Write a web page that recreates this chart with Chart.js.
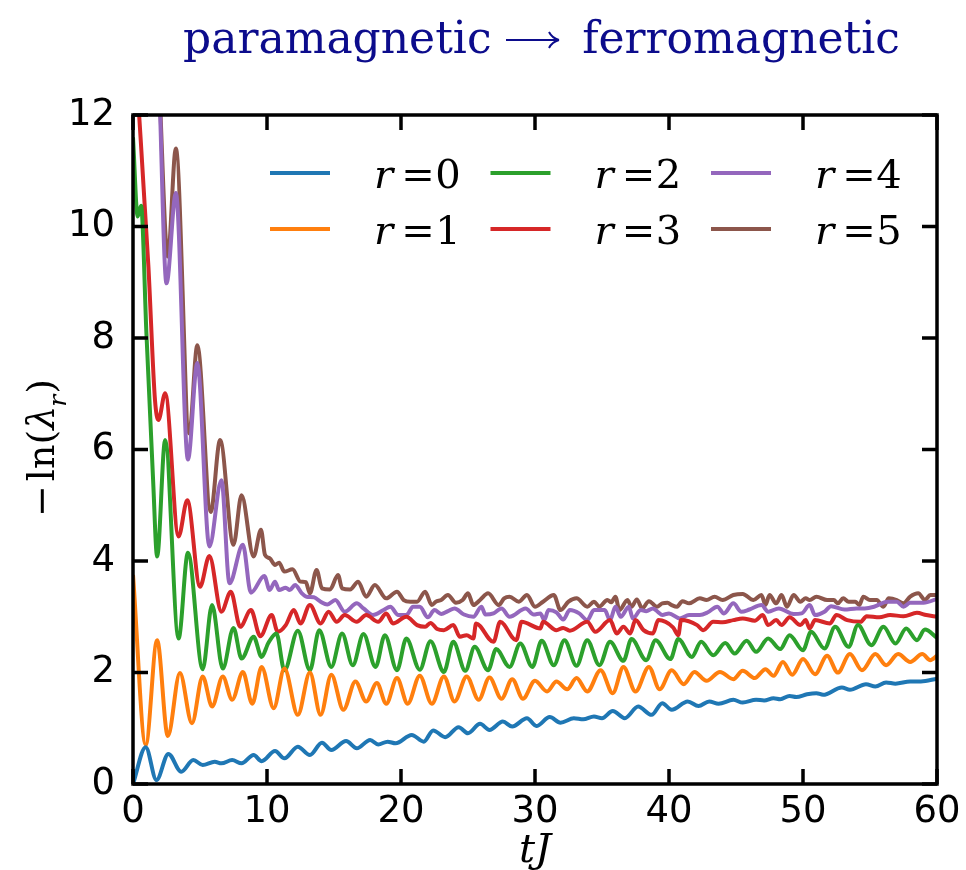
<!DOCTYPE html>
<html lang="en">
<head>
<meta charset="UTF-8">
<title>paramagnetic → ferromagnetic</title>
<script src="https://cdn.jsdelivr.net/npm/chart.js"></script>
<style>
  html, body { margin: 0; padding: 0; background: #fff; }
  #wrap { width: 966px; height: 870px; }
</style>
</head>
<body>
<div id="wrap"><canvas id="grafica" width="966" height="870"></canvas></div>
<script>
// [tJ, -ln(lambda_r)] (peaks and troughs)
const r0 = [[0,0],[0.95,0.66],[1.75,0.07],[2.64,0.54],[3.6,0.22],[4.5,0.43],[5.2,0.34],[6.1,0.40],[6.6,0.37],[7.4,0.43],[8.1,0.37],[9.0,0.52],[9.6,0.41],[10.6,0.59],[11.3,0.46],[12.3,0.67],[13.2,0.52],[14.1,0.74],[14.8,0.61],[15.9,0.77],[16.7,0.64],[17.7,0.79],[18.3,0.71],[19.0,0.76],[19.6,0.73],[20.8,0.88],[21.7,0.76],[22.4,0.96],[23.3,0.84],[24.3,1.02],[25.0,0.91],[25.9,1.08],[26.6,0.97],[27.6,1.12],[28.3,1.03],[29.4,1.18],[30.1,1.04],[31.1,1.20],[31.9,1.10],[32.9,1.18],[33.6,1.16],[34.4,1.21],[35.0,1.18],[35.8,1.31],[36.7,1.18],[37.7,1.39],[38.7,1.24],[39.5,1.45],[40.2,1.33],[41.4,1.48],[42.2,1.40],[43.0,1.48],[43.7,1.44],[44.8,1.51],[45.5,1.46],[46.5,1.51],[47.1,1.50],[47.8,1.54],[48.3,1.52],[49.0,1.58],[49.5,1.56],[50.3,1.61],[51.0,1.63],[51.5,1.60],[52.9,1.73],[53.5,1.69],[54.7,1.79],[55.4,1.75],[56.2,1.82],[56.9,1.80],[58.0,1.84],[58.8,1.84],[60,1.89]];
const r1 = [[0,3.75],[0.95,0.70],[1.8,2.58],[2.6,0.86],[3.5,1.99],[4.4,1.09],[5.2,1.93],[5.9,1.39],[6.7,1.93],[7.4,1.51],[8.2,2.01],[8.9,1.44],[9.6,2.10],[10.5,1.36],[11.3,2.07],[12.3,1.24],[13.2,2.00],[14.0,1.24],[14.8,1.96],[15.7,1.33],[16.6,1.84],[17.4,1.48],[18.2,1.81],[18.9,1.44],[19.7,1.90],[20.5,1.44],[21.4,1.94],[22.3,1.44],[23.2,1.93],[24.0,1.48],[24.9,1.93],[25.8,1.51],[26.6,1.91],[27.5,1.53],[28.3,1.88],[29.1,1.53],[30.0,1.85],[30.9,1.66],[31.6,1.84],[32.4,1.70],[33.1,1.90],[33.9,1.66],[34.9,2.04],[35.8,1.63],[36.6,2.10],[37.5,1.66],[38.5,2.10],[39.3,1.70],[40.2,2.04],[41.1,1.79],[41.9,2.01],[42.8,1.85],[43.8,2.01],[44.8,1.88],[45.5,2.03],[46.4,1.90],[47.2,2.06],[47.8,1.94],[48.5,2.19],[49.2,1.96],[50.0,2.24],[50.9,1.97],[51.8,2.30],[52.6,2.00],[53.5,2.33],[54.4,2.04],[55.4,2.33],[56.2,2.13],[57.1,2.33],[58.0,2.19],[58.9,2.33],[59.5,2.22],[60,2.30]];
const r2 = [[0,11.6],[0.35,10.18],[0.6,10.37],[1.0,8.09],[1.5,5.45],[1.8,4.08],[2.4,6.17],[3.4,2.61],[4.1,4.15],[5.2,2.06],[5.9,3.21],[6.7,2.07],[7.5,2.80],[8.1,2.25],[9.0,2.64],[9.6,2.28],[10.1,2.53],[10.7,2.70],[11.3,2.04],[12.3,2.75],[13.2,2.04],[13.9,2.76],[14.8,2.10],[15.6,2.70],[16.4,2.13],[17.2,2.69],[18.1,2.10],[18.8,2.67],[19.7,2.04],[20.4,2.61],[21.4,2.05],[22.2,2.56],[23.2,2.01],[23.9,2.55],[24.8,2.03],[25.5,2.46],[26.5,2.04],[27.1,2.42],[28.1,2.10],[28.9,2.52],[29.8,2.10],[30.5,2.57],[31.4,2.13],[32.2,2.58],[33.1,2.12],[33.9,2.58],[34.8,2.13],[35.6,2.55],[36.6,2.21],[37.2,2.60],[38.3,2.22],[39.0,2.58],[40.1,2.24],[40.7,2.60],[41.7,2.28],[42.4,2.55],[43.3,2.31],[44.2,2.53],[44.9,2.34],[45.8,2.57],[46.5,2.37],[47.4,2.61],[48.3,2.42],[49.0,2.67],[50.0,2.40],[50.6,2.73],[51.6,2.43],[52.4,2.82],[53.4,2.46],[54.1,2.85],[55.1,2.49],[56.0,2.82],[56.9,2.52],[57.7,2.79],[58.5,2.58],[59.1,2.77],[60,2.62]];
const r3 = [[0.3,12.6],[1.15,9.28],[1.64,6.89],[1.9,6.53],[2.4,7.01],[3.4,4.44],[4.05,5.09],[5.0,3.54],[5.7,4.09],[6.6,3.09],[7.3,3.45],[8.0,2.82],[8.8,3.12],[9.5,2.65],[10.35,3.03],[10.8,2.73],[11.4,2.85],[12.0,3.12],[12.5,2.88],[13.2,3.21],[14.0,2.88],[14.6,3.09],[15.2,2.91],[15.8,3.03],[16.7,2.91],[17.4,3.03],[18.3,2.91],[18.9,3.06],[19.4,2.88],[20.4,3.00],[21.2,2.85],[21.8,2.82],[22.2,2.89],[22.7,2.78],[23.2,2.76],[23.9,2.85],[24.4,2.64],[24.9,2.67],[25.4,2.61],[25.6,2.88],[26.9,2.55],[27.4,2.91],[28.6,2.58],[29.0,2.91],[30.4,2.79],[30.6,2.91],[31.6,2.76],[32.1,2.80],[32.6,2.75],[33.9,2.91],[34.5,2.73],[35.6,2.94],[36.1,2.70],[36.6,2.82],[37.1,2.70],[37.5,2.94],[38.1,2.76],[38.8,2.70],[39.2,2.94],[40.3,2.81],[40.7,2.67],[40.9,2.94],[42.1,2.85],[42.55,2.76],[43.3,2.91],[44.0,2.90],[44.8,2.94],[45.5,2.97],[46.4,2.93],[47.0,3.03],[47.4,2.85],[48.0,2.94],[48.4,2.85],[49.0,2.99],[49.8,2.85],[50.2,2.94],[50.5,2.79],[50.9,2.94],[52.0,2.88],[52.5,3.03],[53.3,2.94],[54.3,2.91],[54.75,3.01],[55.7,2.99],[56.5,3.03],[57.5,3.01],[58.5,3.07],[59.2,3.03],[60,3.00]];
const r4 = [[1.95,12.6],[2.5,8.98],[3.2,10.6],[4.1,5.82],[4.8,7.55],[5.7,4.26],[6.6,5.45],[7.2,3.60],[8.2,4.29],[8.8,3.43],[9.8,3.73],[10.2,3.48],[10.6,3.63],[10.9,3.48],[11.4,3.52],[11.7,3.48],[12.1,3.57],[12.6,3.42],[12.95,3.36],[13.5,3.35],[14.0,3.27],[14.5,3.22],[15.1,3.30],[15.8,3.09],[16.7,3.24],[17.2,3.15],[17.9,3.03],[18.7,3.12],[19.2,3.18],[19.8,3.03],[20.4,3.03],[20.9,3.18],[21.4,3.18],[22.0,2.99],[22.5,3.12],[23.0,3.05],[23.5,3.10],[24.0,3.15],[24.7,3.04],[25.4,3.00],[26.0,3.18],[26.3,3.04],[26.9,3.06],[27.5,3.15],[28.1,3.00],[29.3,3.15],[29.9,3.04],[30.4,3.06],[30.7,2.94],[31.0,3.12],[31.6,3.08],[32.1,2.95],[32.6,3.12],[33.3,3.06],[33.9,2.94],[34.4,3.12],[35.2,3.12],[35.6,2.94],[36.0,3.18],[36.4,3.00],[37.0,3.18],[37.3,2.97],[37.9,3.12],[38.3,3.10],[38.8,3.15],[39.2,3.08],[39.5,3.03],[40.0,3.06],[40.8,2.97],[41.5,3.03],[42.3,3.03],[42.9,3.08],[43.6,3.18],[44.1,3.06],[44.8,3.24],[45.4,3.09],[46.0,3.13],[46.9,3.21],[47.4,3.09],[48.2,3.15],[49.3,3.05],[49.9,3.06],[50.5,3.21],[50.9,3.03],[51.6,3.09],[52.1,3.19],[53.1,3.13],[54.0,3.15],[54.6,3.15],[55.3,3.18],[56.3,3.27],[57.0,3.27],[57.5,3.18],[58.0,3.25],[59.0,3.25],[60,3.32]];
const r5 = [[1.95,12.6],[2.6,9.46],[3.2,11.40],[4.2,6.29],[4.8,7.87],[5.8,4.88],[6.5,6.17],[7.5,4.29],[8.1,5.18],[9.0,4.08],[9.55,4.56],[9.85,4.11],[10.2,4.05],[10.6,3.93],[10.9,3.97],[11.3,3.81],[11.9,3.85],[12.5,3.63],[12.9,3.62],[13.2,3.42],[13.7,3.84],[14.1,3.51],[14.7,3.49],[15.3,3.75],[15.6,3.51],[16.2,3.49],[16.8,3.63],[17.4,3.36],[18.05,3.57],[18.9,3.33],[19.7,3.45],[20.2,3.30],[20.7,3.27],[21.2,3.27],[21.8,3.45],[22.3,3.21],[22.6,3.27],[23.0,3.30],[23.5,3.39],[24.1,3.25],[24.6,3.30],[25.0,3.42],[25.4,3.21],[25.9,3.30],[26.5,3.42],[27.3,3.21],[27.7,3.33],[28.1,3.36],[28.8,3.27],[29.4,3.39],[30.0,3.18],[30.6,3.27],[31.4,3.39],[31.9,3.12],[32.5,3.27],[33.1,3.33],[33.9,3.18],[34.4,3.27],[34.8,3.18],[35.4,3.30],[35.7,3.26],[36.0,3.36],[36.3,3.12],[36.9,3.30],[37.2,3.18],[37.6,3.31],[38.0,3.15],[38.5,3.28],[39.1,3.18],[39.5,3.24],[39.9,3.25],[40.2,3.21],[40.6,3.18],[41.0,3.28],[41.5,3.24],[42.3,3.33],[42.8,3.30],[43.4,3.36],[44.0,3.30],[44.8,3.39],[45.5,3.41],[46.3,3.30],[46.9,3.39],[47.2,3.21],[47.5,3.39],[48.0,3.24],[48.4,3.39],[48.8,3.18],[49.3,3.39],[49.8,3.27],[50.2,3.33],[50.5,3.30],[51.0,3.36],[51.8,3.30],[52.3,3.30],[52.6,3.24],[53.0,3.33],[53.4,3.27],[53.9,3.27],[54.2,3.21],[54.5,3.36],[55.0,3.30],[55.5,3.30],[56.0,3.18],[56.4,3.33],[57.0,3.30],[57.5,3.24],[58.0,3.36],[58.6,3.42],[59.1,3.30],[59.5,3.39],[60,3.39]];

const series = [r0, r1, r2, r3, r4, r5];
const rLabels = ['0', '1', '2', '3', '4', '5'];
const colores = ['#1f77b4', '#ff7f0e', '#2ca02c', '#d62728', '#9467bd', '#8c564b'];
const xTicks = [0, 10, 20, 30, 40, 50, 60];
const yTicks = [0, 2, 4, 6, 8, 10, 12];

const serif = '"DejaVu Serif", "Liberation Serif", serif';

// frame, inward ticks, title, axis labels and legend
const decor = {
  id: 'decor',
  afterDraw(chart) {
    const { ctx, chartArea: a, scales: { x, y } } = chart;
    ctx.save();
    ctx.strokeStyle = '#000';
    ctx.lineWidth = 3.5;
    ctx.strokeRect(a.left, a.top, a.right - a.left, a.bottom - a.top);
    ctx.beginPath();
    xTicks.forEach(v => {
      const px = x.getPixelForValue(v);
      ctx.moveTo(px, a.bottom); ctx.lineTo(px, a.bottom - 15);
      ctx.moveTo(px, a.top); ctx.lineTo(px, a.top + 15);
    });
    yTicks.forEach(v => {
      const py = y.getPixelForValue(v);
      ctx.moveTo(a.left, py); ctx.lineTo(a.left + 15, py);
      ctx.moveTo(a.right, py); ctx.lineTo(a.right - 15, py);
    });
    ctx.stroke();

    // title
    ctx.fillStyle = '#0c0c8c';
    ctx.strokeStyle = '#0c0c8c';
    ctx.textBaseline = 'alphabetic';
    ctx.font = '44px ' + serif;
    ctx.textAlign = 'left';
    ctx.fillText('paramagnetic', 183, 53);
    ctx.textAlign = 'right';
    ctx.fillText('ferromagnetic', 900, 53);
    // long arrow
    ctx.lineWidth = 2;
    ctx.beginPath();
    ctx.moveTo(506, 40); ctx.lineTo(558, 40);
    ctx.moveTo(549, 32); ctx.quadraticCurveTo(552, 38, 559, 40);
    ctx.moveTo(549, 48); ctx.quadraticCurveTo(552, 42, 559, 40);
    ctx.stroke();

    // x label
    ctx.fillStyle = '#000';
    ctx.textAlign = 'center';
    ctx.font = 'italic 40px ' + serif;
    ctx.fillText('tJ', 535, 862);

    // y label, rotated
    ctx.save();
    ctx.translate(54, 448);
    ctx.rotate(-Math.PI / 2);
    ctx.textAlign = 'left';
    const parts = [
      ['−', '38px ' + serif, 0, 4],
      ['ln', '38px ' + serif, 0, 0],
      ['(', '38px ' + serif, 0, 0],
      ['λ', 'italic 38px ' + serif, 0, -1],
      ['r', 'italic 25px ' + serif, 12, 1],
      [')', '38px ' + serif, 0, 0]
    ];
    let total = 0;
    parts.forEach(p => { ctx.font = p[1]; total += ctx.measureText(p[0]).width + p[3]; });
    let u = -total / 2;
    parts.forEach(p => {
      ctx.font = p[1];
      ctx.fillText(p[0], u, p[2]);
      u += ctx.measureText(p[0]).width + p[3];
    });
    ctx.restore();

    // legend, three columns
    const order = [0, 2, 4, 1, 3, 5];
    order.forEach((k, i) => {
      const col = i % 3, row = Math.floor(i / 3);
      const x0 = 270 + col * 220.5;
      const yy = 173 + row * 56;
      ctx.strokeStyle = colores[k];
      ctx.lineWidth = 4;
      ctx.beginPath();
      ctx.moveTo(x0, yy); ctx.lineTo(x0 + 60, yy);
      ctx.stroke();
      ctx.fillStyle = '#000';
      ctx.textAlign = 'left';
      ctx.font = 'italic 40px ' + serif;
      ctx.fillText('r', x0 + 104, yy + 15);
      ctx.textAlign = 'center';
      ctx.font = '40px ' + serif;
      ctx.fillText('=', x0 + 148, yy + 15);
      ctx.fillText(rLabels[k], x0 + 178, yy + 15);
    });
    ctx.restore();
  }
};

const datasets = series.map((s, k) => ({
  label: 'r = ' + rLabels[k],
  data: s.map(p => ({ x: p[0], y: p[1] })),
  borderColor: colores[k],
  borderWidth: 4,
  pointRadius: 0,
  fill: false,
  cubicInterpolationMode: 'monotone'
}));

new Chart(document.getElementById('grafica'), {
  type: 'line',
  data: { datasets },
  options: {
    responsive: false,
    animation: false,
    layout: { padding: { left: 0, right: 29, top: 115, bottom: 0 } },
    plugins: { legend: { display: false }, tooltip: { enabled: false } },
    scales: {
      x: {
        type: 'linear', min: 0, max: 60,
        afterBuildTicks: s => { s.ticks = xTicks.map(v => ({ value: v })); },
        afterFit: s => { s.height = 86; },
        grid: { display: false }, border: { display: false },
        ticks: { color: '#000', padding: -2, maxRotation: 0, font: { family: '"DejaVu Sans"', size: 37 } }
      },
      y: {
        type: 'linear', min: 0, max: 12,
        afterBuildTicks: s => { s.ticks = yTicks.map(v => ({ value: v })); },
        afterFit: s => { s.width = 133; },
        grid: { display: false }, border: { display: false },
        ticks: { color: '#000', padding: 10, font: { family: '"DejaVu Sans"', size: 37 } }
      }
    }
  },
  plugins: [decor]
});
</script>
</body>
</html>
